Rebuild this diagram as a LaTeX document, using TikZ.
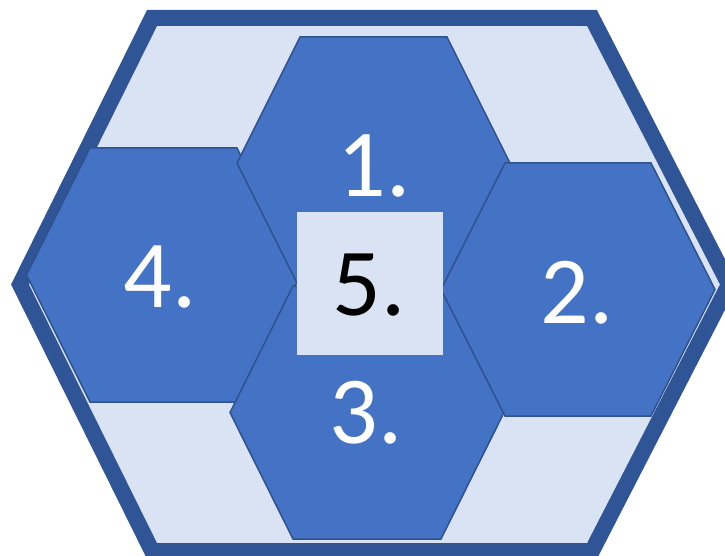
\documentclass[tikz,border=0pt]{standalone}
\usepackage{fontspec}
\setmainfont{Carlito}
\definecolor{outerb}{HTML}{2F5597}
\definecolor{lightf}{HTML}{DAE3F3}
\definecolor{hexf}{HTML}{4472C4}
\definecolor{hexb}{HTML}{2F528F}
\begin{document}
\begin{tikzpicture}[x=1pt,y=-1pt,
  hexcell/.style={fill=hexf,draw=hexb,line width=1.5pt,line join=miter},
  numlbl/.style={text=white,inner sep=0pt,font=\fontsize{96}{96}\selectfont},
  centerlbl/.style={text=black,inner sep=0pt,font=\fontsize{96}{96}\selectfont}]
\useasboundingbox (0,0) rectangle (725,556);
\clip (0,0) rectangle (725,556);
% big hexagon
\draw[fill=lightf,draw=outerb,line width=16pt,line join=miter]
  (152,18) -- (592,18) -- (729,284.5) -- (592,551) -- (152,551) -- (20,284.5) -- cycle;
% hex 4 (left)
\draw[hexcell] (90,148) -- (237,148) -- (300.5,275) -- (237,402) -- (90,402) -- (26.5,275) -- cycle;
% hex 3 (bottom)
\draw[hexcell] (293,286) -- (441,286) -- (504,412.5) -- (441,539) -- (293,539) -- (230,412.5) -- cycle;
% hex 1 (top)
\draw[hexcell] (300,37) -- (447,37) -- (510,163) -- (447,289) -- (300,289) -- (237,163) -- cycle;
% hex 2 (right)
\draw[hexcell] (505,163) -- (651,163) -- (715,289.5) -- (651,416) -- (505,416) -- (441,289.5) -- cycle;
% centre square
\fill[lightf] (297,212) rectangle (443,355);
% labels
\node[numlbl] (l1) at (374,165.5) {1.};
\node[numlbl] (l2) at (577,293) {2.};
\node[numlbl] (l3) at (366,413) {3.};
\node[numlbl] (l4) at (160,277.5) {4.};
\node[centerlbl] (l5) at (369,285.5) {5.};
\end{tikzpicture}
\end{document}
